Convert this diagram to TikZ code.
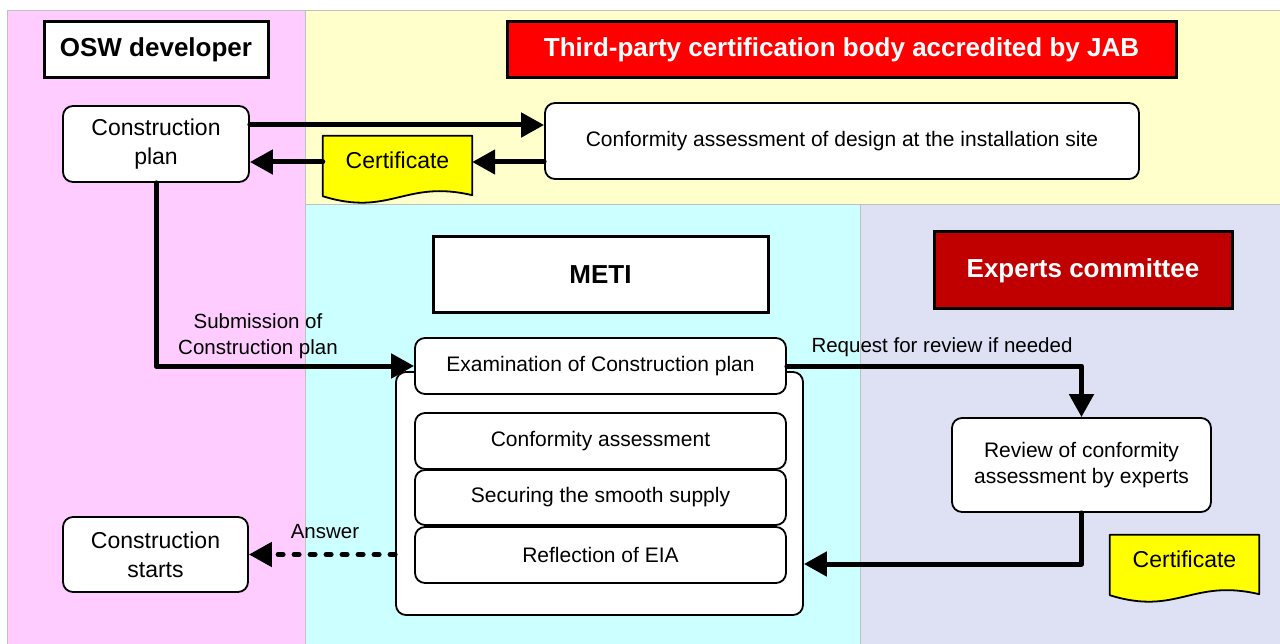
\documentclass[tikz,border=0pt]{standalone}
\usepackage{fontspec}
\setmainfont{Liberation Sans}
\usetikzlibrary{arrows.meta,calc}
\definecolor{pinkbg}{RGB}{255,204,255}
\definecolor{yellowbg}{RGB}{255,255,204}
\definecolor{cyanbg}{RGB}{204,255,255}
\definecolor{lavbg}{RGB}{221,225,243}
\definecolor{darkred}{RGB}{192,0,0}
\definecolor{certyellow}{RGB}{255,255,0}
\definecolor{panelline}{RGB}{192,192,192}
\begin{document}
\begin{tikzpicture}[x=1pt,y=-1pt,
  panel/.style={draw=panelline,line width=0.8pt},
  header/.style={draw=black,line width=3pt,minimum height=56pt,inner sep=0pt,font=\fontsize{26}{30}\selectfont\bfseries},
  rbox/.style={draw=black,line width=1.8pt,rounded corners=10pt,fill=white,inner sep=0pt,align=center},
  bigtxt/.style={font=\fontsize{23}{29}\selectfont},
  midtxt/.style={font=\fontsize{21}{26}\selectfont},
  lab/.style={font=\fontsize{20.5}{26}\selectfont,align=center,inner sep=0pt},
  certbody/.style={inner sep=0pt,minimum width=149pt,minimum height=59pt,font=\fontsize{23}{27}\selectfont},
  docshape/.style={draw=black,line width=1.8pt,fill=certyellow,line join=round},
  flow/.style={line width=5pt,line cap=round,line join=round,-{Triangle[length=23pt,width=24pt]}},
  dotflow/.style={line width=5pt,line cap=round,dash pattern=on 5pt off 11pt,-{Triangle[length=23pt,width=24pt]}}]
\useasboundingbox (0,0) rectangle (1280,644);
% panels
\fill[white] (0,0) rectangle (1280,644);
\filldraw[panel,fill=pinkbg] (7,10) rectangle (305,644);
\filldraw[panel,fill=yellowbg] (305,10) rectangle (1280,204);
\filldraw[panel,fill=cyanbg] (305,204) rectangle (860,644);
\filldraw[panel,fill=lavbg] (860,204) rectangle (1280,644);
% headers
\node[header,fill=white,minimum width=224pt] (osw) at (156,50) {OSW developer};
\node[header,fill=red,text=white,minimum width=669pt] (jab) at (841.5,50) {Third-party certification body accredited by JAB};
\node[header,fill=white,minimum width=335pt,minimum height=76pt] (meti) at (600.5,275) {METI};
\node[header,fill=darkred,text=white,minimum width=298pt,minimum height=77pt] (exp) at (1083,270.5) {Experts committee};
% boxes
\node[rbox,bigtxt,minimum width=186pt,minimum height=76pt] (cp) at (156,144) {Construction\\plan};
\node[rbox,midtxt,minimum width=594pt,minimum height=76pt] (conf) at (842,141) {Conformity assessment of design at the installation site};
\node[rbox,minimum width=407pt,minimum height=243pt] (cont) at (599.5,493.5) {};
\node[rbox,midtxt,minimum width=371pt,minimum height=56pt] (exam) at (600.5,366) {Examination of Construction plan};
\node[rbox,midtxt,minimum width=371pt,minimum height=56pt] (ca) at (600.5,441) {Conformity assessment};
\node[rbox,midtxt,minimum width=371pt,minimum height=55pt] (sec) at (600.5,497.5) {Securing the smooth supply};
\node[rbox,midtxt,minimum width=371pt,minimum height=56pt] (eia) at (600.5,555) {Reflection of EIA};
\node[rbox,midtxt,minimum width=259pt,minimum height=94pt] (rev) at (1081.5,465) {Review of conformity\\assessment by experts};
\node[rbox,bigtxt,minimum width=185pt,minimum height=75pt] (cs) at (155.5,554.5) {Construction\\starts};
% certificates
\node[certbody] (cert1) at (397.5,165.5) {};
\draw[docshape] (cert1.north west) -- (cert1.north east) -- (cert1.south east)
  .. controls ($(cert1.south west)!0.55!(cert1.south east)+(0,-16)$) and ($(cert1.south west)!0.45!(cert1.south east)+(0,22)$) .. ([yshift=-1pt]cert1.south west) -- cycle;
\node[font=\fontsize{23}{27}\selectfont,inner sep=0pt] (cert1t) at ([yshift=5pt]cert1.center) {Certificate};
\node[certbody] (cert2) at (1184.5,564.5) {};
\draw[docshape] (cert2.north west) -- (cert2.north east) -- (cert2.south east)
  .. controls ($(cert2.south west)!0.55!(cert2.south east)+(0,-16)$) and ($(cert2.south west)!0.45!(cert2.south east)+(0,22)$) .. ([yshift=-1pt]cert2.south west) -- cycle;
\node[font=\fontsize{23}{27}\selectfont,inner sep=0pt] (cert2t) at ([yshift=5pt]cert2.center) {Certificate};
% helper coordinates
\coordinate (ytop) at (0,125);
\coordinate (yret) at (0,162);
\coordinate (yback) at (0,564);
% connectors
\draw[flow] (cp.east |- ytop) -- (conf.west |- ytop);
\draw[flow] (conf.west |- yret) -- (cert1.east |- yret);
\draw[flow] (cert1.west |- yret) -- (cp.east |- yret);
\draw[flow] (cp.south) |- (exam.west);
\draw[flow] (exam.east) -| (rev.north);
\draw[flow] (rev.south) |- (cont.east |- yback);
\draw[dotflow] (cont.west |- cs.east) -- (cs.east);
% labels
\node[lab] (sub) at (258,336) {Submission of\\Construction plan};
\node[lab] (req) at (942,347) {Request for review if needed};
\node[lab] (ans) at (325,532) {Answer};
\end{tikzpicture}
\end{document}
